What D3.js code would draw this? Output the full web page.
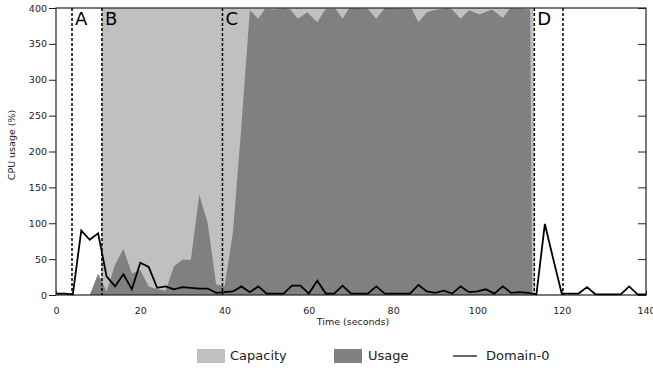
<!DOCTYPE html>
<html>
<head>
<meta charset="utf-8">
<script src="https://cdn.jsdelivr.net/npm/d3@7"></script>
<style>
  body { margin: 0; background: #fff; }
  svg { display: block; font-family: "DejaVu Sans", sans-serif; }
</style>
</head>
<body>
<svg id="chart"></svg>
<script>
const width = 653;
const height = 368;

// Capacity (light gray area)
const capacityTimes = [0, 10.8, 10.9, 113.3, 113.7, 140];
const capacityValues = [0, 0, 400, 400, 0, 0];

// Usage (dark gray area)
const usageTimes = [0, 8, 10, 12, 14, 16, 18, 20, 22, 24, 26, 28, 30, 32, 34, 36, 38, 40, 42, 44,
  46, 48, 49.6, 52, 54, 55.6, 57.4, 59.6, 62, 64, 66.3, 68, 69.6, 74, 76, 78, 84.4, 86, 88,
  90.4, 92.8, 94, 96, 98, 100.5, 103.5, 106, 107.8, 112.5, 113, 140];
const usageValues = [0, 0, 30, 5, 42, 64, 30, 35, 12, 8, 6, 40, 49, 49, 140, 100, 15, 12, 88, 237,
  397, 385, 399, 398, 400, 398, 385, 394, 380, 399, 399, 385, 400, 399, 385, 400, 399, 380, 394,
  398, 400, 398, 385, 397, 391, 398, 386, 400, 398, 0, 0];

// Domain-0 (black line), sampled every 2 s
const domainTimes = [0, 2, 4, 6, 8, 10, 12, 14, 16, 18, 20, 22, 24, 26, 28, 30, 32, 34, 36, 38,
  40, 42, 44, 46, 48, 50, 52, 54, 56, 58, 60, 62, 64, 66, 68, 70, 72, 74, 76, 78,
  80, 82, 84, 86, 88, 90, 92, 94, 96, 98, 100, 102, 104, 106, 108, 110, 112, 114, 116, 118,
  120, 122, 124, 126, 128, 130, 132, 134, 136, 138, 140];
const domainValues = [2, 2, 1, 90, 77, 86, 26, 12, 29, 8, 45, 39, 10, 12, 8, 11, 10, 9, 9, 3,
  4, 5, 12, 4, 12, 2, 2, 2, 13, 13, 2, 20, 2, 2, 13, 2, 2, 2, 12, 2,
  2, 2, 2, 14, 5, 3, 6, 2, 12, 4, 5, 8, 2, 12, 3, 4, 3, 1, 99, 50,
  2, 2, 2, 11, 1, 1, 1, 1, 12, 1, 1];

// phase markers
const markerTimes = [3.8, 10.9, 39.5, 113.5, 120.3];
const markerLabels = ["A", "B", "C", "D", ""];

const xTicks = [0, 20, 40, 60, 80, 100, 120, 140];
const yTicks = [0, 50, 100, 150, 200, 250, 300, 350, 400];

const legendNames = ["Capacity", "Usage", "Domain-0"];

const x = d3.scaleLinear().domain([0, 140]).range([56, 646]);
const y = d3.scaleLinear().domain([0, 400]).range([295, 8]);

const svg = d3.select("#chart").attr("width", width).attr("height", height);

// x ticks drawn under the areas
svg.append("g")
  .attr("transform", `translate(0, ${y(0)})`)
  .call(d3.axisBottom(x).tickValues(xTicks).tickSizeInner(-4).tickSizeOuter(0).tickPadding(12))
  .call(g => g.select(".domain").remove())
  .call(g => g.selectAll("text").attr("font-size", 9.5).attr("font-family", "DejaVu Sans").attr("fill", "#222"))
  .call(g => g.selectAll("line").attr("stroke", "#222"));

const capacity = capacityTimes.map((t, i) => [t, capacityValues[i]]);
const usage = usageTimes.map((t, i) => [t, usageValues[i]]);
const domain0 = domainTimes.map((t, i) => [t, domainValues[i]]);

const area = d3.area()
  .x(d => x(d[0]))
  .y0(y(0))
  .y1(d => y(d[1]));

svg.append("path").datum(capacity).attr("d", area).attr("fill", "#c0c0c0");
svg.append("path").datum(usage).attr("d", area).attr("fill", "#808080");

// left axis, ticks outward
svg.append("g")
  .attr("transform", `translate(${x(0)}, 0)`)
  .call(d3.axisLeft(y).tickValues(yTicks).tickSizeInner(7).tickSizeOuter(0).tickPadding(2))
  .call(g => g.select(".domain").remove())
  .call(g => g.selectAll("text").attr("font-size", 9.5).attr("font-family", "DejaVu Sans").attr("fill", "#222"))
  .call(g => g.selectAll("line").attr("stroke", "#222"));

// right axis, mirrored ticks inward
svg.append("g")
  .attr("transform", `translate(${x(140)}, 0)`)
  .call(d3.axisRight(y).tickValues(yTicks).tickSizeInner(-8).tickSizeOuter(0).tickFormat(""))
  .call(g => g.select(".domain").remove())
  .call(g => g.selectAll("line").attr("stroke", "#222"));

// frame
svg.append("rect")
  .attr("x", x(0))
  .attr("y", y(400))
  .attr("width", x(140) - x(0))
  .attr("height", y(0) - y(400))
  .attr("fill", "none")
  .attr("stroke", "#222")
  .attr("stroke-width", 1.2);

// dashed phase lines
svg.selectAll(".marker")
  .data(markerTimes)
  .enter()
  .append("line")
  .attr("class", "marker")
  .attr("x1", d => x(d))
  .attr("x2", d => x(d))
  .attr("y1", y(400))
  .attr("y2", y(0))
  .attr("stroke", "#000")
  .attr("stroke-width", 1.5)
  .attr("stroke-dasharray", "3,2");

svg.selectAll(".marker-label")
  .data(markerTimes)
  .enter()
  .append("text")
  .attr("class", "marker-label")
  .attr("x", d => x(d) + 3)
  .attr("y", 25)
  .attr("font-size", 18)
  .attr("fill", "#000")
  .text((d, i) => markerLabels[i]);

const line = d3.line()
  .x(d => x(d[0]))
  .y(d => y(d[1]));

svg.append("path")
  .datum(domain0)
  .attr("d", line)
  .attr("fill", "none")
  .attr("stroke", "#000")
  .attr("stroke-width", 1.8)
  .attr("stroke-linejoin", "miter");

// axis titles
svg.append("text")
  .attr("x", 353)
  .attr("y", 325)
  .attr("text-anchor", "middle")
  .attr("font-size", 9.5)
  .attr("fill", "#222")
  .text("Time (seconds)");

svg.append("text")
  .attr("transform", "translate(15, 145) rotate(-90)")
  .attr("text-anchor", "middle")
  .attr("font-size", 9.5)
  .attr("fill", "#222")
  .text("CPU usage (%)");

// legend
const legend = svg.append("g").attr("font-size", 13).attr("fill", "#222");

legend.append("rect").attr("x", 197).attr("y", 349).attr("width", 28).attr("height", 14).attr("fill", "#c0c0c0");
legend.append("text").attr("x", 230).attr("y", 360).text(legendNames[0]);

legend.append("rect").attr("x", 334).attr("y", 349).attr("width", 28).attr("height", 14).attr("fill", "#808080");
legend.append("text").attr("x", 368).attr("y", 360).text(legendNames[1]);

legend.append("line").attr("x1", 453).attr("x2", 477).attr("y1", 356).attr("y2", 356).attr("stroke", "#000").attr("stroke-width", 1.2);
legend.append("text").attr("x", 486).attr("y", 360).text(legendNames[2]);
</script>
</body>
</html>
